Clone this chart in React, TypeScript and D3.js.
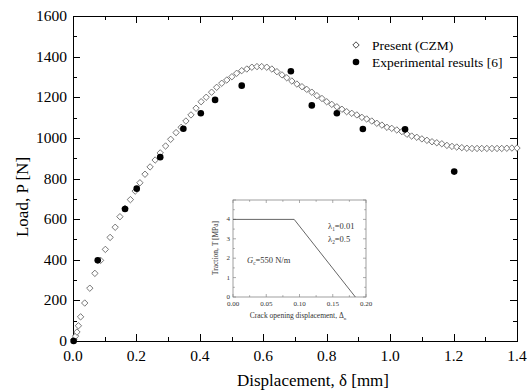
import React, { useEffect, useRef } from "react";
import * as d3 from "d3";

// CZM prediction (hollow diamonds)
const czmDisp = [
  0.003, 0.008, 0.0125, 0.017, 0.024, 0.037, 0.053, 0.069, 0.087, 0.102, 0.117, 0.133,
  0.148, 0.164, 0.181, 0.196, 0.211, 0.227, 0.243, 0.259, 0.275, 0.292, 0.308, 0.325,
  0.341, 0.356, 0.372, 0.388, 0.404, 0.42, 0.437, 0.453, 0.469, 0.485, 0.501, 0.516,
  0.532, 0.548, 0.564, 0.58, 0.595, 0.611, 0.627, 0.643, 0.659, 0.674, 0.69, 0.706,
  0.722, 0.737, 0.753, 0.769, 0.785, 0.8, 0.816, 0.832, 0.848, 0.863, 0.879, 0.895,
  0.911, 0.926, 0.942, 0.958, 0.974, 0.99, 1.005, 1.021, 1.037, 1.053, 1.068, 1.084,
  1.1, 1.116, 1.132, 1.147, 1.163, 1.179, 1.195, 1.21, 1.226, 1.242, 1.258, 1.274,
  1.289, 1.305, 1.321, 1.337, 1.352, 1.368, 1.384, 1.4,
];
const czmLoad = [
  8, 24, 44, 75, 119, 187, 260, 333, 397, 451, 510, 560,
  612, 653, 696, 738, 779, 821, 857, 891, 926, 960, 993, 1026,
  1052, 1083, 1113, 1146, 1178, 1200, 1225, 1249, 1269, 1285, 1301, 1318,
  1331, 1339, 1348, 1351, 1351, 1348, 1339, 1326, 1310, 1296, 1280, 1265,
  1252, 1239, 1225, 1208, 1194, 1178, 1165, 1153, 1141, 1129, 1121, 1113,
  1101, 1093, 1083, 1072, 1063, 1052, 1047, 1039, 1031, 1018, 1009, 1003,
  995, 988, 981, 976, 971, 963, 958, 955, 952, 949, 948, 948,
  948, 948, 948, 948, 948, 949, 950, 950,
];

// experimental results [6] (filled circles)
const expDisp = [0.002, 0.078, 0.164, 0.201, 0.275, 0.348, 0.403, 0.448, 0.532, 0.687, 0.753, 0.832, 0.914, 1.047, 1.202];
const expLoad = [0, 397, 650, 750, 905, 1045, 1121, 1187, 1257, 1328, 1160, 1121, 1044, 1042, 834];

const xTicks = [0, 0.2, 0.4, 0.6, 0.8, 1.0, 1.2, 1.4];
const yTicks = [0, 200, 400, 600, 800, 1000, 1200, 1400, 1600];

// inset traction-separation law
const insetDisp = [0, 0.092, 0.184];
const insetTraction = [4, 4, 0];
const insetXTicks = [0, 0.05, 0.1, 0.15, 0.2];
const insetYTicks = [0, 1, 2, 3, 4];

const FONT = "'Liberation Serif', 'Times New Roman', serif";

export default function App() {
  const ref = useRef<SVGSVGElement>(null);

  useEffect(() => {
    document.body.style.margin = "0";
    const svg = d3.select(ref.current);
    svg.selectAll("*").remove();

    const x = d3.scaleLinear().domain([0, 1.4]).range([73, 517]);
    const y = d3.scaleLinear().domain([0, 1600]).range([341, 16]);
    const [x0, x1] = x.range();
    const [y0, y1] = y.range();

    svg.append("rect").attr("width", 529).attr("height", 391).attr("fill", "#fff");

    // ticks (inward, major + minor) on all four sides
    const g = svg.append("g").attr("stroke", "#000").attr("stroke-width", 1);
    const xMinor = d3.range(0, 15).map((i) => i * 0.1);
    const yMinor = d3.range(0, 17).map((i) => i * 100);
    xMinor.forEach((v, i) => {
      const len = i % 2 === 0 ? 7 : 4;
      const px = Math.round(x(v)) + 0.5;
      g.append("line").attr("x1", px).attr("x2", px).attr("y1", y0).attr("y2", y0 - len);
      g.append("line").attr("x1", px).attr("x2", px).attr("y1", y1).attr("y2", y1 + len);
    });
    yMinor.forEach((v, i) => {
      const len = i % 2 === 0 ? 7 : 4;
      const py = Math.round(y(v)) + 0.5;
      g.append("line").attr("y1", py).attr("y2", py).attr("x1", x0).attr("x2", x0 + len);
      g.append("line").attr("y1", py).attr("y2", py).attr("x1", x1).attr("x2", x1 - len);
    });
    svg.append("rect")
      .attr("x", x0 + 0.5).attr("y", y1 + 0.5)
      .attr("width", x1 - x0).attr("height", y0 - y1)
      .attr("fill", "none").attr("stroke", "#000").attr("stroke-width", 1);

    // tick labels
    svg.append("g").selectAll("text").data(xTicks).join("text")
      .attr("x", (d) => x(d)).attr("y", 361)
      .attr("text-anchor", "middle").attr("font-family", FONT).attr("font-size", 15.5)
      .text((d) => d3.format(".1f")(d));
    svg.append("g").selectAll("text").data(yTicks).join("text")
      .attr("x", 67).attr("y", (d) => y(d) + 5)
      .attr("text-anchor", "end").attr("font-family", FONT).attr("font-size", 15.5)
      .text((d) => d);

    // axis titles
    svg.append("text").attr("x", 313).attr("y", 386)
      .attr("text-anchor", "middle").attr("font-family", FONT).attr("font-size", 17)
      .text("Displacement, δ [mm]");
    svg.append("text").attr("transform", "translate(28,197) rotate(-90)")
      .attr("text-anchor", "middle").attr("font-family", FONT).attr("font-size", 17)
      .text("Load, P [N]");

    // data
    const diamond = "M0,-3.2L3.2,0L0,3.2L-3.2,0Z";
    svg.append("g").selectAll("path").data(czmDisp).join("path")
      .attr("transform", (d, i) => `translate(${x(d)},${y(czmLoad[i])})`)
      .attr("d", diamond).attr("fill", "#fff").attr("stroke", "#555").attr("stroke-width", 0.8);
    svg.append("g").selectAll("circle").data(expDisp).join("circle")
      .attr("cx", (d) => x(d)).attr("cy", (d, i) => y(expLoad[i]))
      .attr("r", 3.3).attr("fill", "#000");

    // legend
    svg.append("path").attr("transform", "translate(356,45)").attr("d", diamond)
      .attr("fill", "#fff").attr("stroke", "#333").attr("stroke-width", 0.9);
    svg.append("circle").attr("cx", 356).attr("cy", 62).attr("r", 3.3).attr("fill", "#000");
    svg.append("text").attr("x", 372).attr("y", 50).attr("font-family", FONT).attr("font-size", 13.5)
      .text("Present (CZM)");
    svg.append("text").attr("x", 372).attr("y", 67).attr("font-family", FONT).attr("font-size", 13.5)
      .text("Experimental results [6]");

    // inset
    const ix = d3.scaleLinear().domain([0, 0.2]).range([233, 366]);
    const iy = d3.scaleLinear().domain([0, 5]).range([297, 200]);
    const ins = svg.append("g");
    const [ix0, ix1] = ix.range();
    const [iy0, iy1] = iy.range();
    const ig = ins.append("g").attr("stroke", "#888").attr("stroke-width", 0.7);
    d3.range(0, 9).map((i) => i * 0.025).forEach((v, i) => {
      const len = i % 2 === 0 ? 3 : 1.8;
      ig.append("line").attr("x1", ix(v)).attr("x2", ix(v)).attr("y1", iy0).attr("y2", iy0 - len);
      ig.append("line").attr("x1", ix(v)).attr("x2", ix(v)).attr("y1", iy1).attr("y2", iy1 + len);
    });
    d3.range(0, 11).map((i) => i * 0.5).forEach((v, i) => {
      const len = i % 2 === 0 ? 3 : 1.8;
      ig.append("line").attr("y1", iy(v)).attr("y2", iy(v)).attr("x1", ix0).attr("x2", ix0 + len);
      ig.append("line").attr("y1", iy(v)).attr("y2", iy(v)).attr("x1", ix1).attr("x2", ix1 - len);
    });
    ins.append("rect").attr("x", ix0).attr("y", iy1)
      .attr("width", ix1 - ix0).attr("height", iy0 - iy1)
      .attr("fill", "none").attr("stroke", "#888").attr("stroke-width", 0.8);

    const line = d3.line<number>().x((d) => ix(d)).y((d, i) => iy(insetTraction[i]));
    ins.append("path").datum(insetDisp).attr("d", line)
      .attr("fill", "none").attr("stroke", "#555").attr("stroke-width", 0.9);

    ins.append("g").selectAll("text").data(insetXTicks).join("text")
      .attr("x", (d) => ix(d)).attr("y", 306)
      .attr("text-anchor", "middle").attr("font-family", FONT).attr("font-size", 7)
      .attr("fill", "#333").text((d) => d3.format(".2f")(d));
    ins.append("g").selectAll("text").data(insetYTicks).join("text")
      .attr("x", 230).attr("y", (d) => iy(d) + 2)
      .attr("text-anchor", "end").attr("font-family", FONT).attr("font-size", 7)
      .attr("fill", "#333").text((d) => d);

    const xt = ins.append("text").attr("x", 298).attr("y", 318)
      .attr("text-anchor", "middle").attr("font-family", FONT).attr("font-size", 7.5).attr("fill", "#333");
    xt.append("tspan").text("Crack opening displacement, Δ");
    xt.append("tspan").attr("font-size", 5).attr("dy", 1.5).text("n");

    ins.append("text").attr("transform", "translate(218,248) rotate(-90)")
      .attr("text-anchor", "middle").attr("font-family", FONT).attr("font-size", 7.5).attr("fill", "#333")
      .text("Traction, T [MPa]");

    const sub = (px: number, py: number, main: string, s: string, rest: string, fs: number, italic = false) => {
      const t = ins.append("text").attr("x", px).attr("y", py)
        .attr("font-family", FONT).attr("font-size", fs).attr("fill", "#333");
      t.append("tspan").attr("font-style", italic ? "italic" : "normal").text(main);
      t.append("tspan").attr("font-size", fs * 0.62).attr("dy", 2).text(s);
      t.append("tspan").attr("dy", -2).text(rest);
    };
    sub(328, 229, "λ", "1", "=0.01", 8.5);
    sub(328, 242, "λ", "2", "=0.5", 8.5);
    sub(247, 263, "G", "c", "=550 N/m", 8.5, true);
  }, []);

  return <svg ref={ref} width={529} height={391} style={{ display: "block" }} />;
}
